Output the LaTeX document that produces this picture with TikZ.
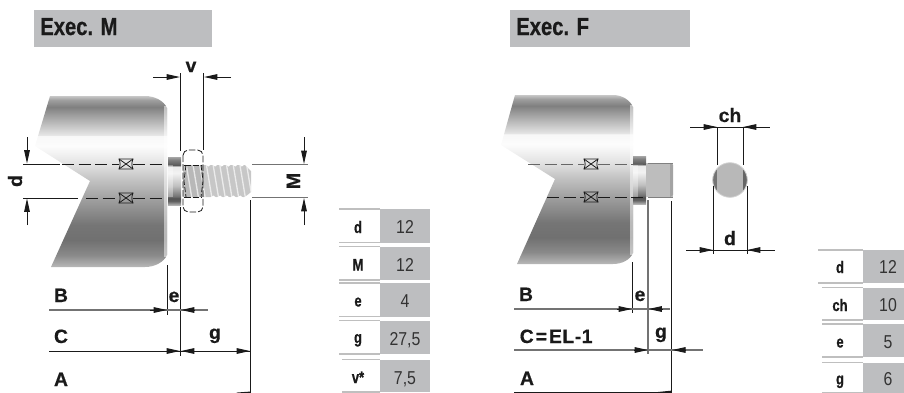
\documentclass[tikz,border=0pt]{standalone}
\usepackage{fontspec}
\usetikzlibrary{arrows.meta}
\setmainfont{Liberation Sans}
\newfontfamily\labelfont[BoldFeatures={FakeBold=0.55}]{Liberation Sans}
\newfontfamily\condbold[FakeStretch=0.82,BoldFeatures={FakeBold=0.6}]{Liberation Sans}
\newfontfamily\rowbold[FakeStretch=0.78,BoldFeatures={FakeBold=0.7}]{Liberation Sans}
\newfontfamily\condreg[FakeStretch=0.85]{Liberation Sans}
\definecolor{panel}{HTML}{BDBEC0}
\definecolor{ink}{HTML}{1A1A1A}
\pgfdeclareverticalshading{bodyshade}{100bp}{
 color(0bp)=(black!28); color(25bp)=(black!28); color(28.5bp)=(black!46); color(32.9bp)=(black!56);
 color(37.3bp)=(black!54); color(44.6bp)=(black!38); color(50.4bp)=(black!24); color(54.8bp)=(black!12);
 color(60.4bp)=(black!1); color(63.4bp)=(black!3); color(63.6bp)=(black!10); color(66.5bp)=(black!24); color(69.4bp)=(black!38);
 color(71.8bp)=(black!50); color(73.8bp)=(black!38); color(75bp)=(black!22); color(100bp)=(black!22)}
\pgfdeclareverticalshading{collarshade}{100bp}{
 color(0bp)=(black!30); color(25bp)=(black!30); color(29bp)=(black!62); color(32bp)=(black!68);
 color(34bp)=(black!55); color(45bp)=(black!25); color(58bp)=(black!5); color(65bp)=(black!8);
 color(66.5bp)=(black!65); color(72bp)=(black!50); color(75bp)=(black!35); color(100bp)=(black!35)}
\tikzset{
 dimline/.style={draw=ink,line width=.7pt},
 greyline/.style={draw=black!55,line width=.8pt},
 dimtip/.style={-{Triangle[length=10pt,width=4.2pt]}},
 axisdash/.style={draw=ink,line width=.7pt,dash pattern=on 9pt off 3.5pt},
 lab/.style={font=\labelfont\bfseries\fontsize{14.5}{15}\selectfont,text=ink,anchor=base,inner sep=0pt},
 title/.style={font=\condbold\bfseries\fontsize{18.5}{20}\selectfont,text=ink,anchor=base west,inner sep=0pt},
 rowlab/.style={font=\rowbold\bfseries\fontsize{12.5}{14}\selectfont,text=ink,anchor=base,inner sep=0pt},
 rowval/.style={font=\condreg\fontsize{14}{15}\selectfont,text=black!80,anchor=base,inner sep=0pt},
 rowrule/.style={draw=black!25,line width=.8pt},
 mark box/.style={draw=ink,line width=.6pt,fill=none}
}
\newcommand{\crossbox}[2]{%
 \draw[mark box] (#1-7,#2-5) .. controls (#1-5.5,#2-1) and (#1-5.5,#2+1) .. (#1-7,#2+5) -- (#1+7,#2+5)
   .. controls (#1+5.5,#2+1) and (#1+5.5,#2-1) .. (#1+7,#2-5) -- cycle;
 \draw[mark box] (#1-7,#2-5) -- (#1+7,#2+5) (#1-7,#2+5) -- (#1+7,#2-5);}
\newcommand{\tablerow}[5]{% x0 xm x1 ytop ybot
 \fill[panel] (#2,#4) rectangle (#3,#5);
 \draw[rowrule] (#1,#4) -- (#2,#4) (#1,#5) -- (#2,#5);}
\begin{document}
\begin{tikzpicture}[x=.75pt,y=-.75pt]
\useasboundingbox (0,0) rectangle (904,393);
% title bars
\fill[panel] (34,10) rectangle (212,47);
\node[title] (tm) at (40,35) {Exec. M};
\fill[panel] (510,10) rectangle (690,47);
\node[title] (tf) at (516,35) {Exec. F};

% ===== body M
\path[shading=bodyshade] (50,96) -- (145,96) .. controls (155,96) and (164,101) .. (167,108) -- (167,255)
  .. controls (164,262) and (155,267) .. (145,267) -- (51,267) -- (90,181) -- (35,146) -- cycle;
\fill[white,opacity=.5] (164,106) rectangle (167,257);
% collar
\path[shading=collarshade] (168,157) rectangle (181,205);
\fill[white,opacity=.35] (168,165) rectangle (173,197);
% thread
\fill[black!22] (183,165) -- (245,165) -- (251,171) -- (251,192) -- (245,197) -- (183,197) -- cycle;
\fill[black!28] (185,165) rectangle (203,197);
\begin{scope}
\clip (183,165) -- (245,165) -- (251,171) -- (251,192) -- (245,197) -- (183,197) -- cycle;
\foreach \i in {0,...,9}{
 \draw[white,opacity=.65,line width=1pt] (186+6.7*\i,163) -- (192+6.7*\i,199);
}
\end{scope}
\foreach \i in {0,...,6}{
 \fill[white] (205+6.7*\i,164) -- (208.4+6.7*\i,166.5) -- (211.7+6.7*\i,164) -- cycle;
 \fill[white] (210+6.7*\i,198) -- (213.4+6.7*\i,195.5) -- (216.7+6.7*\i,198) -- cycle;
}
% nut
\draw[draw=ink,line width=.6pt,dash pattern=on 5pt off 1.5pt,rounded corners=4pt] (183,150) rectangle (203,212);
\draw[draw=ink,line width=.6pt,dash pattern=on 5pt off 1.5pt] (184,165) -- (202,165) (184,197) -- (202,197);
\draw[draw=ink,line width=.6pt,dash pattern=on 4pt off 1.5pt] (186,165) -- (184,181) -- (186,197) (201,165) -- (203,181) -- (201,197);

% axes M
\draw[dimline] (23,164) -- (60,164) (23,198) -- (78,198);
\draw[axisdash] (62,164) -- (119,164) (133,164) -- (165,164);
\draw[axisdash] (86,198) -- (119,198) (133,198) -- (165,198);
\crossbox{126}{164}
\crossbox{126}{198}

% dimension v
\draw[dimline] (180.5,73) -- (180.5,151) (180.5,207) -- (180.5,356);
\draw[dimline] (203,73) -- (203,150);
\draw[dimline,dimtip] (153,77) -- (180,77);
\draw[dimline,dimtip] (231,77) -- (204,77);
\node[lab] (lv) at (191,72) {v};
% dimension d
\draw[dimline,dimtip] (27,137) -- (27,163.5);
\draw[dimline,dimtip] (27,225) -- (27,198.5);
\node[lab,rotate=90] (ld) at (22,181) {d};
% dimension M
\draw[greyline] (252,164.5) -- (308,164.5) (252,197.5) -- (308,197.5);
\draw[dimline,dimtip] (304,137) -- (304,164);
\draw[dimline,dimtip] (304,225) -- (304,198);
\node[lab,rotate=90] (lM) at (300,181) {M};
% bottom dims M
\draw[dimline] (167.5,265) -- (167.5,315);
\draw[dimline] (250,200) -- (250,393);
\draw[greyline] (49,310) -- (208,310);
\draw[dimline,dimtip] (150,310) -- (167,310);
\draw[dimline,dimtip] (195,310) -- (181,310);
\draw[dimline] (49,351) -- (250,351);
\draw[dimline,dimtip] (160,351) -- (180,351);
\draw[dimline,dimtip] (198,351) -- (181,351);
\draw[dimline,dimtip] (230,351) -- (250,351);
\fill[ink] (250,394) -- (236,392.6) -- (250,391.6) -- cycle;
\node[lab] (lBm) at (61,302) {B};
\node[lab] (lCm) at (61,343) {C};
\node[lab] (lAm) at (61,386) {A};
\node[lab] (lem) at (174,302) {e};
\node[lab] (lgm) at (215,339) {g};

% table M
\tablerow{339}{380}{430}{209}{242.5}
\tablerow{339}{380}{430}{246.5}{280}
\tablerow{339}{380}{430}{283}{316.5}
\tablerow{339}{380}{430}{320.5}{354}
\tablerow{342}{380}{430}{359.5}{392}
\node[rowlab] (m1a) at (358,233) {d};    \node[rowval] (m1b) at (405,233.5) {12};
\node[rowlab] (m2a) at (358,270.5) {M};  \node[rowval] (m2b) at (405,271) {12};
\node[rowlab] (m3a) at (358,306.5) {e};  \node[rowval] (m3b) at (405,307) {4};
\node[rowlab] (m4a) at (358,343) {g};    \node[rowval] (m4b) at (405,345) {27,5};
\node[rowlab] (m5a) at (358,383) {v*};   \node[rowval] (m5b) at (405,384) {7,5};

% ===== body F
\path[shading=bodyshade] (515,95) -- (613,95) .. controls (622,95) and (630,100) .. (633,107) -- (633,253)
  .. controls (630,260) and (622,264) .. (613,264) -- (517,264) -- (555,179) -- (501,145) -- cycle;
\fill[white,opacity=.5] (630,105) rectangle (633,255);
\path[shading=collarshade] (633,156) rectangle (646,204);
\fill[white,opacity=.35] (633,164) rectangle (638,197);
\fill[black!26] (646,163) -- (673,163) -- (673,197) -- (646,197) -- cycle;
\fill[black!36] (670,163) -- (673,165) -- (673,195) -- (670,197) -- cycle;
\draw[black!50,line width=.5pt] (648,163) -- (673,163) (648,197) -- (673,197);
\draw[axisdash,draw=black!60] (528,164) -- (584,164) (598,164) -- (646,164);
\draw[axisdash] (547,197) -- (584,197) (598,197) -- (646,197);
\crossbox{591}{164}
\crossbox{591}{197}
% section
\fill[black!28] (730,180) circle[radius=17.3];
\begin{scope}
\clip (730,180) circle[radius=17.3];
\fill[black!55] (712,160) rectangle (717,200);
\fill[black!60] (743,160) rectangle (748,200);
\end{scope}
\draw[black!18,line width=.6pt] (730,180) circle[radius=17.3];
\draw[dimline] (717,127) -- (717,165) (743,127) -- (743,165);
\draw[dimline] (713,186) -- (713,254) (747,186) -- (747,254);
\draw[dimline] (690,127) -- (770,127);
\draw[dimline,dimtip] (695,127) -- (717,127);
\draw[dimline,dimtip] (765,127) -- (743,127);
\draw[dimline] (686,250) -- (775,250);
\draw[dimline,dimtip] (690,250) -- (713,250);
\draw[dimline,dimtip] (770,250) -- (747,250);
\node[lab] (lch) at (730,122) {ch};
\node[lab] (ldf) at (730,245) {d};
% bottom dims F
\draw[dimline] (632.5,262) -- (632.5,313);
\draw[greyline] (648,200) -- (648,354);
\draw[dimline] (671.7,201) -- (671.7,392);
\draw[greyline] (514,309) -- (670,309);
\draw[dimline,dimtip] (617,309) -- (632,309);
\draw[dimline,dimtip] (662,309) -- (648.5,309);
\draw[greyline] (514,350) -- (703,350);
\draw[dimline,dimtip] (634,350) -- (648,350);
\draw[dimline,dimtip] (686,350) -- (672.2,350);
\draw[dimline] (514,392.2) -- (671.7,392.2);
\fill[ink] (671.7,393) -- (658,392) -- (671.7,390.6) -- cycle;
\node[lab] (lBf) at (526,301) {B};
\node[lab,anchor=base west] (lCf) at (519.5,343) {C\kern1.5pt=\kern1.5pt E\kern.4pt L\kern.4pt-\kern.4pt 1};
\node[lab] (lAf) at (527,385) {A};
\node[lab] (lef) at (640,301) {e};
\node[lab] (lgf) at (661,338) {g};

% table F
\tablerow{818}{863}{904}{250}{283}
\tablerow{822}{863}{904}{287.5}{320}
\tablerow{822}{863}{904}{324}{357}
\tablerow{822}{863}{904}{362.5}{393}
\node[rowlab] (f1a) at (840,273) {d};   \node[rowval] (f1b) at (888,273) {12};
\node[rowlab] (f2a) at (840,311) {ch};  \node[rowval] (f2b) at (888,311.5) {10};
\node[rowlab] (f3a) at (840,347.5) {e}; \node[rowval] (f3b) at (888,348) {5};
\node[rowlab] (f4a) at (840,384.5) {g}; \node[rowval] (f4b) at (888,385) {6};
\end{tikzpicture}
\end{document}
